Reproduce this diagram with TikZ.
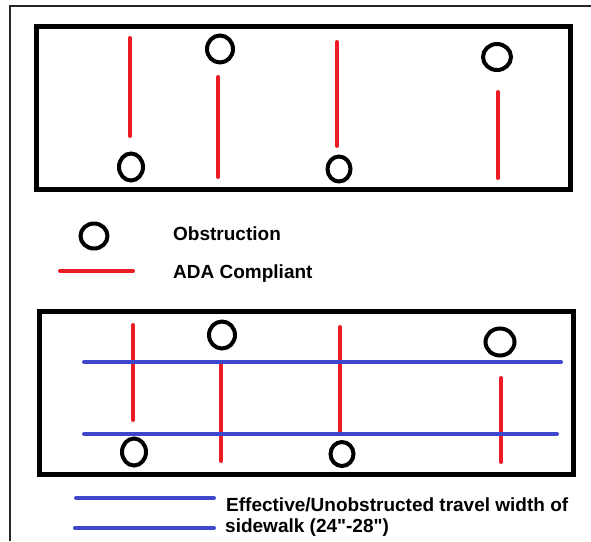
\documentclass[tikz,border=0pt]{standalone}
\usepackage{fontspec}
\setmainfont{Liberation Sans}[Ligatures=TeXOff]
\definecolor{adared}{RGB}{237,28,36}
\definecolor{pathblue}{RGB}{63,72,204}
\tikzset{
  obstacle/.style={black,line width=4pt},
  ada/.style={adared,line width=4pt,line cap=round},
  travel/.style={pathblue,line width=4pt,line cap=round},
  label/.style={font=\bfseries\fontsize{19}{22}\selectfont,inner sep=0pt,anchor=base west}
}
\begin{document}
\begin{tikzpicture}[x=1pt,y=-1pt]
\useasboundingbox (0,0) rectangle (591,541);
\fill[white] (0,0) rectangle (591,541);

\draw[black!85,line width=2pt] (10,541) -- (10,6) -- (591,6); % Page edge

% Top sidewalk: obstructions and ADA spacing
\draw[line width=5pt] (36.5,26.5) rectangle (570.5,189.5); % Outline of sidewalk
\draw[ada] (130,38) -- (130,136);
\draw[obstacle] (131,167) ellipse (12 and 13.5);
\draw[obstacle] (220,49) ellipse (13 and 13.5);
\draw[ada] (218,77) -- (218,177);
\draw[ada] (337,42) -- (337,146);
\draw[obstacle] (339,169) ellipse (11.5 and 12.5);
\draw[obstacle] (497,57) ellipse (14 and 13);
\draw[ada] (498,92) -- (498,178);

% Legend
\draw[obstacle] (94,236) ellipse (13.5 and 12.5);
\node[label] (obs) at (173,240) {Obstruction};
\draw[ada] (60,271) -- (133,271);
\node[label] (adc) at (173,278) {ADA Compliant};

% Bottom sidewalk: effective travel width
\draw[line width=5pt] (39.5,311.5) rectangle (573,474.5); % Outline of sidewalk
\draw[ada] (133,325) -- (133,420);
\draw[obstacle] (222,335) ellipse (13 and 13.5);
\draw[ada] (221,364) -- (221,461);
\draw[obstacle] (134,452) ellipse (12 and 13.5);
\draw[ada] (340,327) -- (340,431);
\draw[obstacle] (342,454) ellipse (11.5 and 12);
\draw[obstacle] (500,342) ellipse (14.5 and 13.5);
\draw[ada] (501,378) -- (501,462);
\draw[travel] (84,362) -- (561,362); % Travel width edges
\draw[travel] (84,434) -- (557,434);

% Legend
\draw[travel] (76,498) -- (214,498);
\draw[travel] (75,528) -- (214,528);
\node[label] (eff) at (226,511) {Effective/Unobstructed travel width of};
\node[label] (sdw) at (225,532) {sidewalk (24"-28")};

\end{tikzpicture}
\end{document}
